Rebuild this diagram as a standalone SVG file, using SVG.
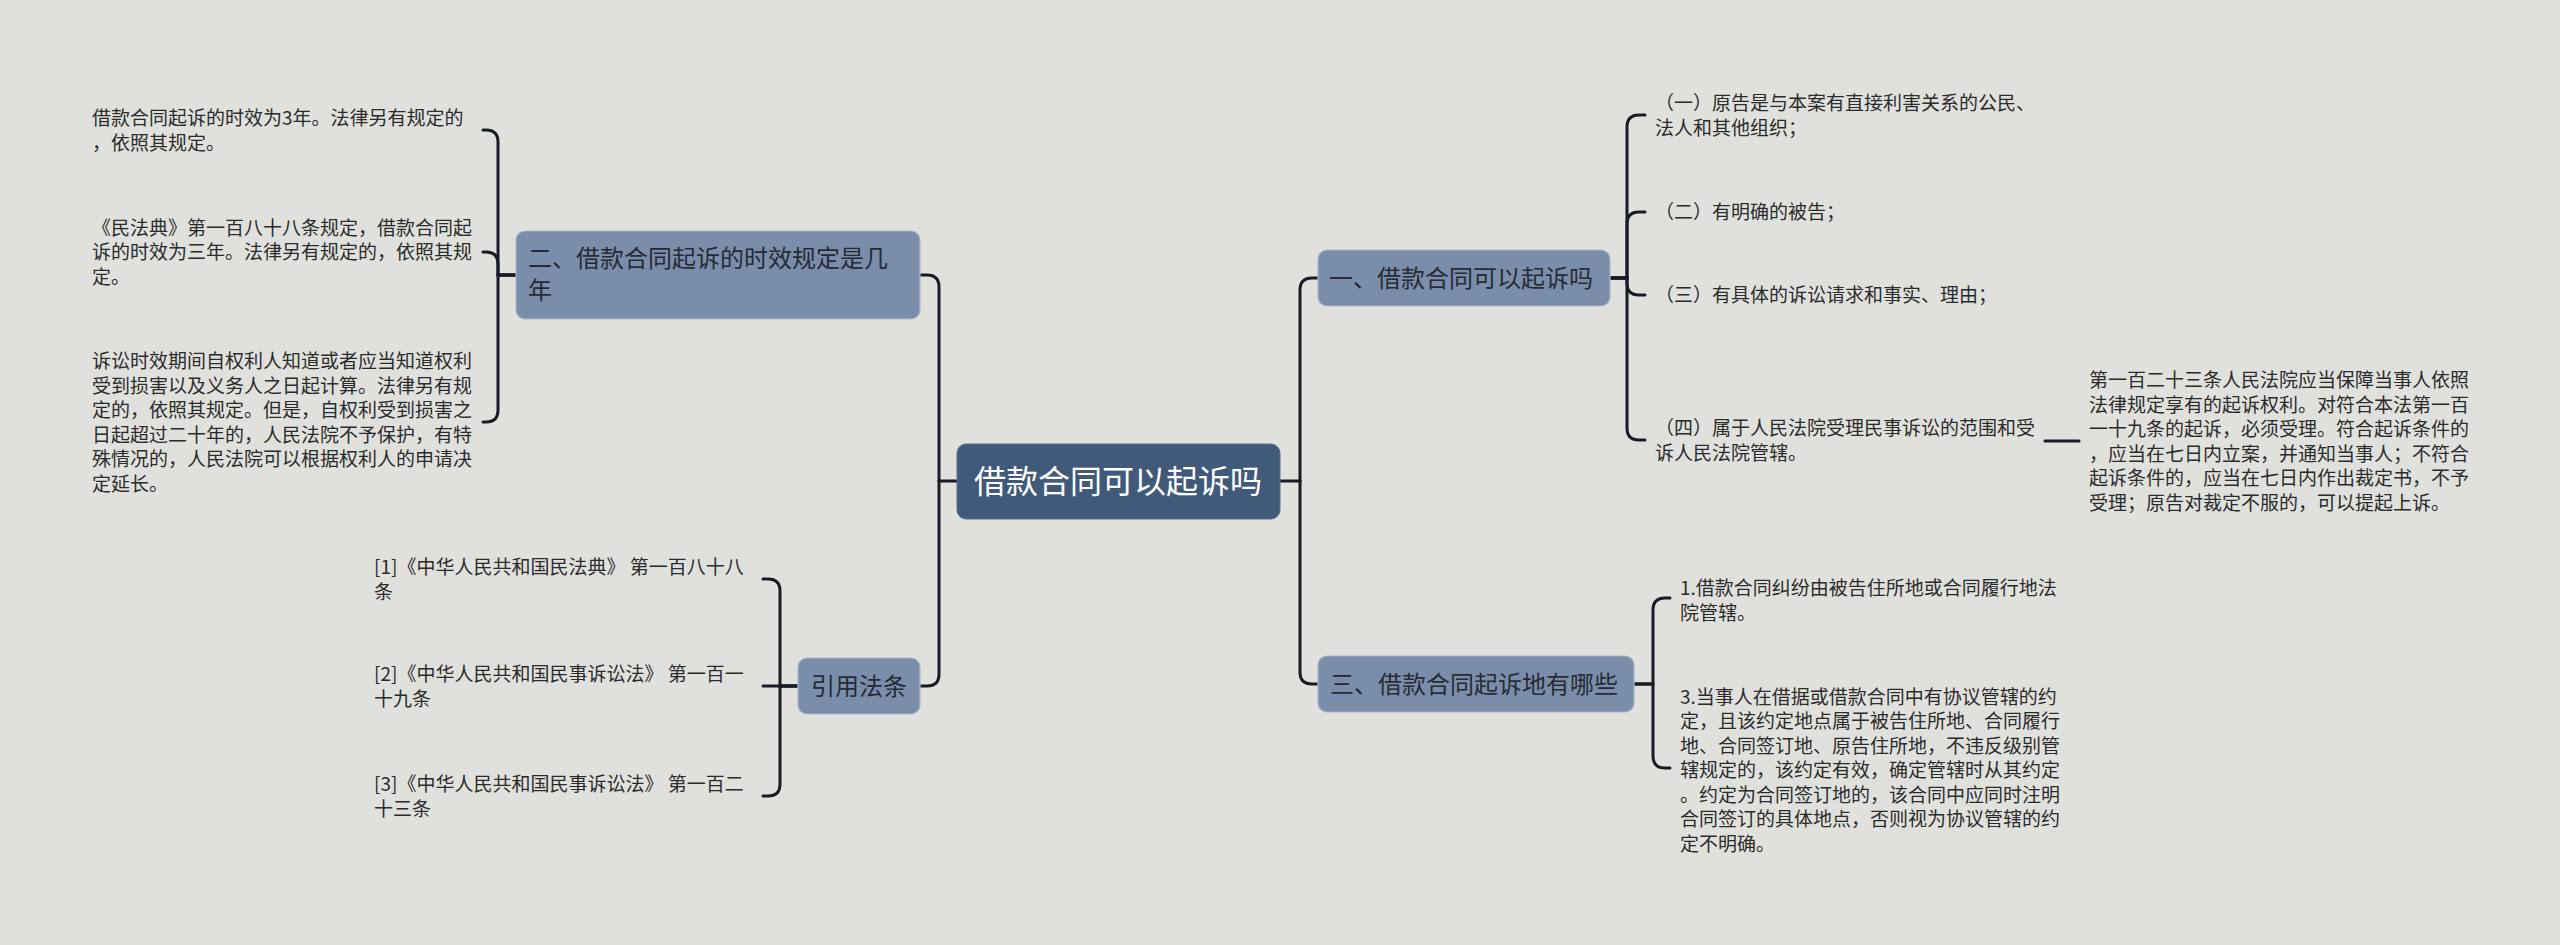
<svg xmlns="http://www.w3.org/2000/svg" width="2560" height="945" viewBox="0 0 2560 945">
<style>
.bg{fill:#e0e1dd}
.root{fill:#415a79;stroke:#5a7190;stroke-width:1}
.sub{fill:#7a8eab;stroke:#aab6c8;stroke-width:1.2}
.rt{font-family:"Noto Sans CJK SC","Liberation Sans",sans-serif;font-size:32px;fill:#ffffff}
.st{font-family:"Noto Sans CJK SC","Liberation Sans",sans-serif;font-size:24px;fill:#262b34}
.tx{font-family:"Noto Sans CJK SC","Liberation Sans",sans-serif;font-size:19px;fill:#2b2b2b}
.ln{fill:none;stroke:#161b26;stroke-width:3;stroke-linecap:round}
</style>
<rect class="bg" x="0" y="0" width="2560" height="945"/>
<g id="connectors">
<path class="ln" d="M957,481 H939"/>
<path class="ln" d="M939,481 V287 Q939,275 927,275 H920"/>
<path class="ln" d="M939,481 V674 Q939,686 927,686 H920"/>
<path class="ln" d="M1280,481 H1300"/>
<path class="ln" d="M1300,481 V290 Q1300,278 1312,278 H1318"/>
<path class="ln" d="M1300,481 V672 Q1300,684 1312,684 H1318"/>
<path class="ln" d="M516,275 H498 V142 Q498,130 486,130 H483"/>
<path class="ln" d="M516,275 H498 V264 Q498,252 486,252 H483"/>
<path class="ln" d="M516,275 H498 V410 Q498,422 486,422 H483"/>
<path class="ln" d="M798,686 H780 V591 Q780,579 768,579 H763"/>
<path class="ln" d="M798,686 H763"/>
<path class="ln" d="M798,686 H780 V784 Q780,796 768,796 H763"/>
<path class="ln" d="M1610,278 H1627 V127 Q1627,115 1639,115 H1645"/>
<path class="ln" d="M1610,278 H1627 V224 Q1627,212 1639,212 H1645"/>
<path class="ln" d="M1610,278 H1627 V283 Q1627,295 1639,295 H1645"/>
<path class="ln" d="M1610,278 H1627 V428 Q1627,440 1639,440 H1645"/>
<path class="ln" d="M2045,441 H2079"/>
<path class="ln" d="M1634,684 H1653 V610 Q1653,598 1665,598 H1670"/>
<path class="ln" d="M1634,684 H1653 V756 Q1653,768 1665,768 H1670"/>
</g>
<g id="root">
<rect class="root" x="957" y="444" width="323" height="75" rx="9"/>
<text class="rt" x="1118" y="493" text-anchor="middle">借款合同可以起诉吗</text>
</g>
<g id="n2">
<rect class="sub" x="516" y="231" width="404" height="88" rx="9"/>
<text class="st" x="528" y="267">二、借款合同起诉的时效规定是几</text>
<text class="st" x="528" y="299">年</text>
</g>
<g id="n-cite">
<rect class="sub" x="798" y="658" width="122" height="56" rx="9"/>
<text class="st" x="859" y="695" text-anchor="middle">引用法条</text>
</g>
<g id="n1">
<rect class="sub" x="1318" y="250" width="292" height="56" rx="9"/>
<text class="st" x="1329" y="287">一、借款合同可以起诉吗</text>
</g>
<g id="n3">
<rect class="sub" x="1318" y="656" width="316" height="56" rx="9"/>
<text class="st" x="1330" y="693">三、借款合同起诉地有哪些</text>
</g>
<g id="n2-c1">
<text class="tx" x="92" y="125">借款合同起诉的时效为3年。法律另有规定的<tspan x="92" dy="24.5">，依照其规定。</tspan></text>
</g>
<g id="n2-c2">
<text class="tx" x="92" y="234.5">《民法典》第一百八十八条规定，借款合同起<tspan x="92" dy="24.5">诉的时效为三年。法律另有规定的，依照其规</tspan><tspan x="92" dy="24.5">定。</tspan></text>
</g>
<g id="n2-c3">
<text class="tx" x="92" y="368">诉讼时效期间自权利人知道或者应当知道权利<tspan x="92" dy="24.5">受到损害以及义务人之日起计算。法律另有规</tspan><tspan x="92" dy="24.5">定的，依照其规定。但是，自权利受到损害之</tspan><tspan x="92" dy="24.5">日起超过二十年的，人民法院不予保护，有特</tspan><tspan x="92" dy="24.5">殊情况的，人民法院可以根据权利人的申请决</tspan><tspan x="92" dy="24.5">定延长。</tspan></text>
</g>
<g id="cite-1">
<text class="tx" x="374" y="574">[1]《中华人民共和国民法典》 第一百八十八<tspan x="374" dy="24.5">条</tspan></text>
</g>
<g id="cite-2">
<text class="tx" x="374" y="681">[2]《中华人民共和国民事诉讼法》 第一百一<tspan x="374" dy="24.5">十九条</tspan></text>
</g>
<g id="cite-3">
<text class="tx" x="374" y="791">[3]《中华人民共和国民事诉讼法》 第一百二<tspan x="374" dy="24.5">十三条</tspan></text>
</g>
<g id="n1-c1">
<text class="tx" x="1655" y="110">（一）原告是与本案有直接利害关系的公民、<tspan x="1655" dy="24.5">法人和其他组织；</tspan></text>
</g>
<g id="n1-c2">
<text class="tx" x="1655" y="219">（二）有明确的被告；</text>
</g>
<g id="n1-c3">
<text class="tx" x="1655" y="302">（三）有具体的诉讼请求和事实、理由；</text>
</g>
<g id="n1-c4">
<text class="tx" x="1655" y="435">（四）属于人民法院受理民事诉讼的范围和受<tspan x="1655" dy="24.5">诉人民法院管辖。</tspan></text>
</g>
<g id="n1-c4-c1">
<text class="tx" x="2089" y="387">第一百二十三条人民法院应当保障当事人依照<tspan x="2089" dy="24.5">法律规定享有的起诉权利。对符合本法第一百</tspan><tspan x="2089" dy="24.5">一十九条的起诉，必须受理。符合起诉条件的</tspan><tspan x="2089" dy="24.5">，应当在七日内立案，并通知当事人；不符合</tspan><tspan x="2089" dy="24.5">起诉条件的，应当在七日内作出裁定书，不予</tspan><tspan x="2089" dy="24.5">受理；原告对裁定不服的，可以提起上诉。</tspan></text>
</g>
<g id="n3-c1">
<text class="tx" x="1680" y="595">1.借款合同纠纷由被告住所地或合同履行地法<tspan x="1680" dy="24.5">院管辖。</tspan></text>
</g>
<g id="n3-c2">
<text class="tx" x="1680" y="703.5">3.当事人在借据或借款合同中有协议管辖的约<tspan x="1680" dy="24.5">定，且该约定地点属于被告住所地、合同履行</tspan><tspan x="1680" dy="24.5">地、合同签订地、原告住所地，不违反级别管</tspan><tspan x="1680" dy="24.5">辖规定的，该约定有效，确定管辖时从其约定</tspan><tspan x="1680" dy="24.5">。约定为合同签订地的，该合同中应同时注明</tspan><tspan x="1680" dy="24.5">合同签订的具体地点，否则视为协议管辖的约</tspan><tspan x="1680" dy="24.5">定不明确。</tspan></text>
</g>
</svg>
